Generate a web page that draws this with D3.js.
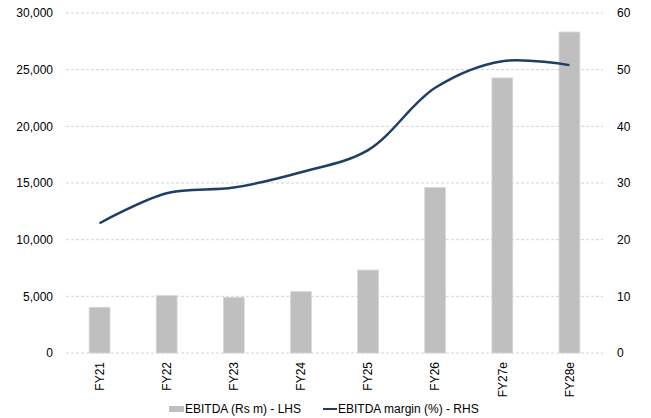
<!DOCTYPE html>
<html>
<head>
<meta charset="utf-8">
<script src="https://cdn.jsdelivr.net/npm/d3@7"></script>
<style>
  body { margin: 0; background: #fff; }
  text { font-family: "Liberation Sans", Arial, sans-serif; fill: #000; }
</style>
</head>
<body>
<script>
// chart data
var years = ['FY21', 'FY22', 'FY23', 'FY24', 'FY25', 'FY26', 'FY27e', 'FY28e'];
var ebitda = [4030, 5060, 4910, 5410, 7320, 14600, 24270, 28320];
var margin = [22.9, 28.2, 29.2, 31.9, 35.8, 46.8, 51.5, 50.8];
var leftTicks = [0, 5000, 10000, 15000, 20000, 25000, 30000];
var rightTicks = [0, 10, 20, 30, 40, 50, 60];

function drawChart() {
  var width = 651;
  var height = 418;
  var m = { top: 13, right: 48, bottom: 65, left: 66 };
  var w = width - m.left - m.right;
  var h = height - m.top - m.bottom;

  var svg = d3.select('body')
    .append('svg')
    .attr('width', width)
    .attr('height', height);

  var g = svg.append('g')
    .attr('transform', 'translate(' + m.left + ',' + m.top + ')');

  // scales
  var x = d3.scaleBand()
    .domain(years)
    .range([0, w])
    .paddingInner(0.69)
    .paddingOuter(0.345);

  var yL = d3.scaleLinear().domain([0, 30000]).range([h, 0]);
  var yR = d3.scaleLinear().domain([0, 60]).range([h, 0]);

  // gridlines
  g.append('g')
    .selectAll('line')
    .data(leftTicks)
    .enter()
    .append('line')
    .attr('x1', 0)
    .attr('x2', w)
    .attr('y1', function (d) { return yL(d); })
    .attr('y2', function (d) { return yL(d); })
    .attr('stroke', '#d4d4d4')
    .attr('stroke-width', 1)
    .attr('stroke-dasharray', '3,2');

  // left axis
  var axL = g.append('g')
    .call(d3.axisLeft(yL).tickValues(leftTicks).tickFormat(d3.format(',')).tickSize(0).tickPadding(13));
  axL.select('.domain').remove();
  axL.selectAll('text').style('font-size', '12px');

  // right axis
  var axR = g.append('g')
    .attr('transform', 'translate(' + w + ',0)')
    .call(d3.axisRight(yR).tickValues(rightTicks).tickSize(0).tickPadding(14));
  axR.select('.domain').remove();
  axR.selectAll('text').style('font-size', '12px');

  // bars
  g.selectAll('rect.bar')
    .data(ebitda)
    .enter()
    .append('rect')
    .attr('class', 'bar')
    .attr('x', function (d, i) { return x(years[i]); })
    .attr('width', x.bandwidth())
    .attr('y', function (d) { return yL(d); })
    .attr('height', function (d) { return h - yL(d); })
    .attr('fill', '#bfbfbf')
    .attr('stroke', '#d6d6d6')
    .attr('stroke-width', 0.8);

  // x axis labels, rotated
  var axX = g.append('g')
    .attr('transform', 'translate(0,' + h + ')')
    .call(d3.axisBottom(x).tickSize(0).tickPadding(0));
  axX.select('.domain').remove();
  axX.selectAll('text')
    .style('font-size', '12px')
    .attr('text-anchor', 'end')
    .attr('transform', 'rotate(-90)')
    .attr('x', -9)
    .attr('y', 0)
    .attr('dy', '0.35em');

  // margin line
  var line = d3.line()
    .x(function (d, i) { return x(years[i]) + x.bandwidth() / 2; })
    .y(function (d) { return yR(d); })
    .curve(d3.curveCatmullRom.alpha(0.5));

  g.append('path')
    .datum(margin)
    .attr('d', line)
    .attr('fill', 'none')
    .attr('stroke', '#1b3f66')
    .attr('stroke-width', 2.5);

  // legend
  var leg = svg.append('g').attr('transform', 'translate(0,409)');
  leg.append('rect')
    .attr('x', 169).attr('y', -3).attr('width', 15).attr('height', 6)
    .attr('fill', '#bfbfbf');
  leg.append('text')
    .attr('x', 185).attr('y', 0).attr('dy', '0.35em')
    .style('font-size', '12px')
    .text('EBITDA (Rs m) - LHS');
  leg.append('line')
    .attr('x1', 323).attr('x2', 337).attr('y1', 0).attr('y2', 0)
    .attr('stroke', '#1b3f66').attr('stroke-width', 2);
  leg.append('text')
    .attr('x', 338).attr('y', 0).attr('dy', '0.35em')
    .style('font-size', '12px')
    .text('EBITDA margin (%) - RHS');
}

drawChart();
</script>
</body>
</html>
